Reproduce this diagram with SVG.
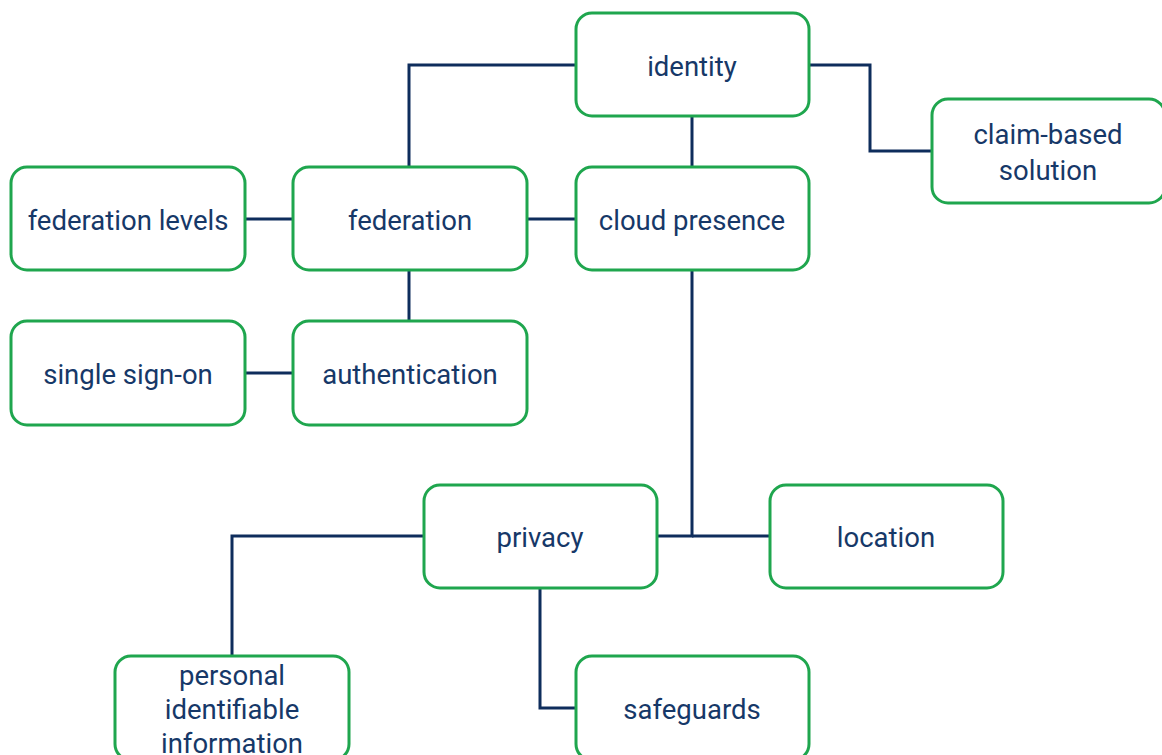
<svg xmlns="http://www.w3.org/2000/svg" width="1162" height="755" viewBox="0 0 1162 755">
  <style>
    .box { fill: #ffffff; stroke: #1FA64E; stroke-width: 3; }
    .lbl { font-family: Roboto, "Liberation Sans", sans-serif; font-size: 27.5px; fill: #163868; text-anchor: middle; dominant-baseline: central; }
    .link { fill: none; stroke: #0E2D5C; stroke-width: 3; }
  </style>
  <rect width="1162" height="755" fill="#ffffff"/>

  <g id="connectors">
    <polyline class="link" points="576,65 409,65 409,167"/>
    <line class="link" x1="692" y1="116" x2="692" y2="167"/>
    <polyline class="link" points="809,65 870,65 870,151 932,151"/>
    <line class="link" x1="245" y1="219" x2="293" y2="219"/>
    <line class="link" x1="527" y1="219" x2="576" y2="219"/>
    <line class="link" x1="409" y1="270" x2="409" y2="321"/>
    <line class="link" x1="245" y1="373" x2="293" y2="373"/>
    <polyline class="link" points="692,270 692,536 657,536"/>
    <line class="link" x1="692" y1="536" x2="770" y2="536"/>
    <polyline class="link" points="424,536 232,536 232,656"/>
    <polyline class="link" points="540,588 540,708 576,708"/>
  </g>

  <g id="identity">
    <rect class="box" x="576" y="13" width="233" height="103" rx="16"/>
    <text class="lbl" x="692" y="66">identity</text>
  </g>
  <g id="claim-based-solution">
    <rect class="box" x="932" y="99" width="233" height="104" rx="16"/>
    <text class="lbl" x="1048" y="134">claim-based</text>
    <text class="lbl" x="1048" y="170">solution</text>
  </g>
  <g id="federation-levels">
    <rect class="box" x="11" y="167" width="234" height="103" rx="16"/>
    <text class="lbl" x="128" y="220">federation levels</text>
  </g>
  <g id="federation">
    <rect class="box" x="293" y="167" width="234" height="103" rx="16"/>
    <text class="lbl" x="410" y="220">federation</text>
  </g>
  <g id="cloud-presence">
    <rect class="box" x="576" y="167" width="233" height="103" rx="16"/>
    <text class="lbl" x="692" y="220">cloud presence</text>
  </g>
  <g id="single-sign-on">
    <rect class="box" x="11" y="321" width="234" height="104" rx="16"/>
    <text class="lbl" x="128" y="374">single sign-on</text>
  </g>
  <g id="authentication">
    <rect class="box" x="293" y="321" width="234" height="104" rx="16"/>
    <text class="lbl" x="410" y="374">authentication</text>
  </g>
  <g id="privacy">
    <rect class="box" x="424" y="485" width="233" height="103" rx="16"/>
    <text class="lbl" x="540" y="537">privacy</text>
  </g>
  <g id="location">
    <rect class="box" x="770" y="485" width="233" height="103" rx="16"/>
    <text class="lbl" x="886" y="537">location</text>
  </g>
  <g id="personal-identifiable-information">
    <rect class="box" x="115" y="656" width="234" height="104" rx="16"/>
    <text class="lbl" x="232" y="675">personal</text>
    <text class="lbl" x="232" y="709">identifiable</text>
    <text class="lbl" x="232" y="743">information</text>
  </g>
  <g id="safeguards">
    <rect class="box" x="576" y="656" width="233" height="104" rx="16"/>
    <text class="lbl" x="692" y="709">safeguards</text>
  </g>
</svg>
